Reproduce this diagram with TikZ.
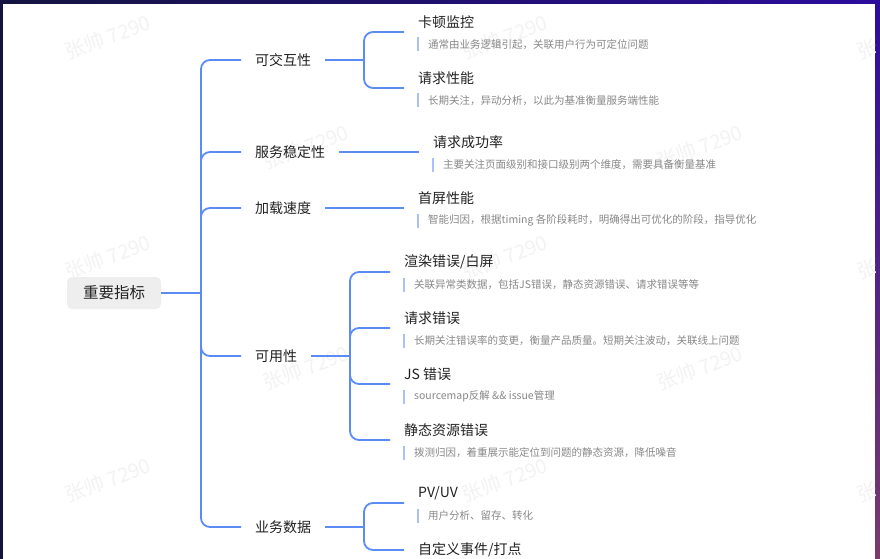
\documentclass[tikz,border=0pt]{standalone}
\usepackage{fontspec}
\setmainfont{Noto Sans CJK SC}
\definecolor{link}{HTML}{5B8CF6}
\definecolor{barc}{HTML}{A9C0FB}
\definecolor{ttl}{HTML}{222222}
\definecolor{dsc}{HTML}{888888}
\definecolor{wm}{HTML}{F3F3F3}
\definecolor{rootfill}{HTML}{EEEEEE}
\definecolor{frameA}{RGB}{20,20,64}
\definecolor{frameB}{RGB}{44,12,156}
\definecolor{frameC}{RGB}{122,58,108}
\newcommand\leafnode[5]{%
  \node[ttlnode] (#1) at (#2,#3) {#4};
  \node[dscnode] (#1d) at ([xshift=10pt,yshift=-22.5pt]#1.west) {#5};
  \draw[barline] ([xshift=-10pt,yshift=7pt]#1d.west) -- ([xshift=-10pt,yshift=-7pt]#1d.west);
  \coordinate (#1k) at ([xshift=-14pt,yshift=-10pt]#1.west);
}
\begin{document}
\begin{tikzpicture}[x=1pt,y=-1pt,
  conn/.style={draw=link,line width=1.8pt,rounded corners=9pt},
  barline/.style={draw=barc,line width=2pt},
  lone/.style={anchor=west,inner xsep=14pt,inner ysep=0pt,font=\fontsize{14}{16}\selectfont,text=ttl},
  ttlnode/.style={anchor=west,inner sep=0pt,font=\fontsize{14}{16}\selectfont,text=ttl},
  dscnode/.style={anchor=west,inner xsep=0pt,inner ysep=1pt,font=\fontsize{10.5}{12}\selectfont,text=dsc},
  wmark/.style={text=wm,rotate=20,font=\fontsize{20}{24}\selectfont},
  rootbox/.style={fill=rootfill,rounded corners=5pt,minimum width=94pt,minimum height=32pt,inner sep=0pt,font=\fontsize{15.5}{18}\selectfont,text=ttl}
]
\useasboundingbox (0,0) rectangle (880,559);
\fill[frameA] (0,0) rectangle (880,559);
\shade[left color=frameA,right color=frameB] (0,0) rectangle (880,4);
\shade[top color=frameB,bottom color=frameC] (875,0) rectangle (880,559);
\fill[white] (3,4) rectangle (875,559);
% watermarks
\begin{scope}
\clip (3,4) rectangle (875,559);
\foreach \y in {37,257,480} {
  \foreach \x in {108,505,900} { \node[wmark] at (\x,\y) {张帅 7290}; }
}
\foreach \y in {147,368} {
  \foreach \x in {306,700} { \node[wmark] at (\x,\y) {张帅 7290}; }
}
\end{scope}
% root
\node[rootbox] (root) at (114,293) {重要指标};
\coordinate (J) at (201,293);
\draw[conn] (root.east) -- (J);
% level 1
\node[lone] (a1) at (241,60) {可交互性};
\node[lone] (a2) at (241,152) {服务稳定性};
\node[lone] (a3) at (241,208) {加载速度};
\node[lone] (a4) at (241,356) {可用性};
\node[lone] (a5) at (241,527) {业务数据};
\foreach \n in {a1,a2,a3,a4,a5} { \draw[conn] (J) |- (\n.west); }
% leaves
\leafnode{b1}{418}{22}{卡顿监控}{通常由业务逻辑引起，关联用户行为可定位问题}
\leafnode{b2}{418}{78}{请求性能}{长期关注，异动分析，以此为基准衡量服务端性能}
\leafnode{b3}{433}{142}{请求成功率}{主要关注页面级别和接口级别两个维度，需要具备衡量基准}
\leafnode{b4}{418}{198}{首屏性能}{智能归因，根据timing 各阶段耗时，明确得出可优化的阶段，指导优化}
\leafnode{c1}{404}{262}{渲染错误/白屏}{关联异常类数据，包括JS错误，静态资源错误、请求错误等等}
\leafnode{c2}{404}{318}{请求错误}{长期关注错误率的变更，衡量产品质量。短期关注波动，关联线上问题}
\leafnode{c3}{404}{374}{JS 错误}{sourcemap反解 \&\& issue管理}
\leafnode{c4}{404}{430}{静态资源错误}{拨测归因，着重展示能定位到问题的静态资源，降低噪音}
\leafnode{d1}{418}{493}{PV/UV}{用户分析、留存、转化}
\node[ttlnode] (d2) at (418,550) {自定义事件/打点};
\coordinate (d2k) at ([xshift=-14pt]d2.west);
% sub-connectors
\coordinate (J1) at (364,60);
\draw[conn] (a1.east) -- (J1);
\draw[conn] (J1) |- (b1k);
\draw[conn] (J1) |- (b2k);
\draw[conn] (a2.east) -- (b3k);
\draw[conn] (a3.east) -- (b4k);
\coordinate (J4) at (350,356);
\draw[conn] (a4.east) -- (J4);
\foreach \n in {c1,c2,c3,c4} { \draw[conn] (J4) |- (\n k); }
\coordinate (J5) at (364,527);
\draw[conn] (a5.east) -- (J5);
\draw[conn] (J5) |- (d1k);
\draw[conn] (J5) |- (d2k);
\end{tikzpicture}
\end{document}
